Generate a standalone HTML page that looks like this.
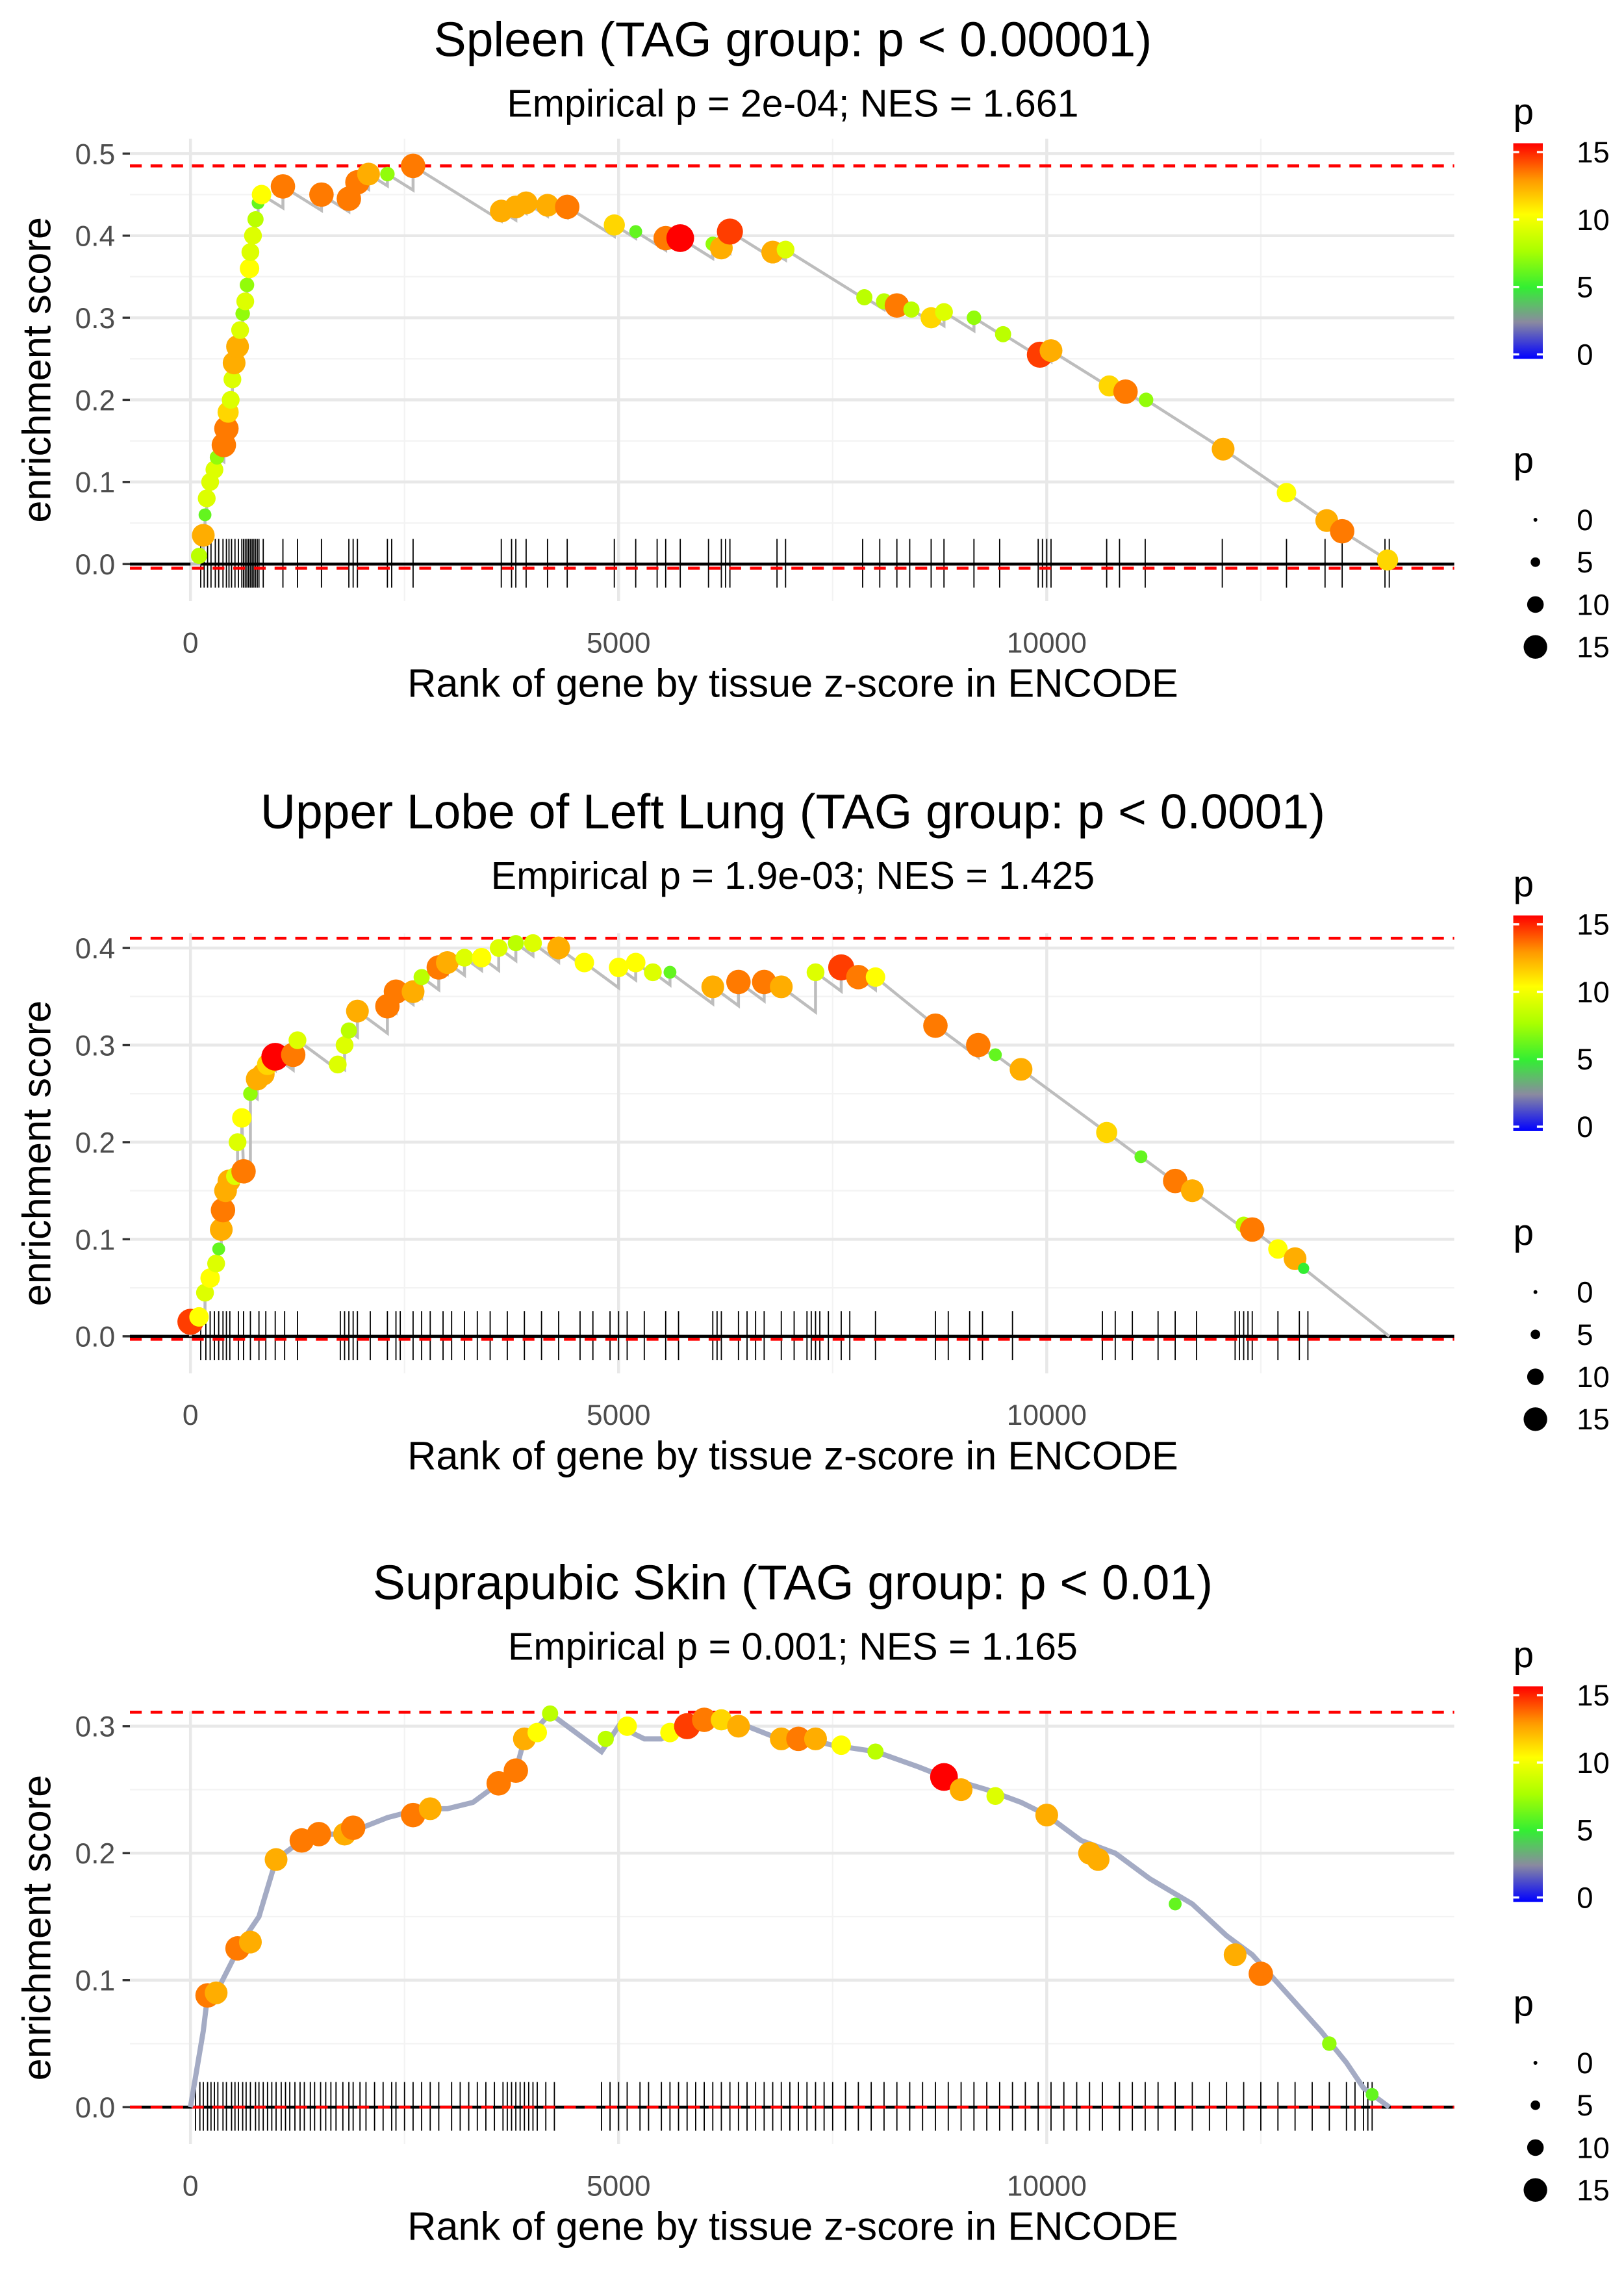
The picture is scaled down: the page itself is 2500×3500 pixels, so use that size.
<!DOCTYPE html>
<html><head><meta charset="utf-8"><style>
html,body{margin:0;padding:0;background:#fff}
svg{display:block}
text{font-family:"Liberation Sans",sans-serif}
</style></head><body>
<svg id="chart" width="2500" height="3500" viewBox="0 0 1100 1540" xmlns="http://www.w3.org/2000/svg">
<defs>
<linearGradient id="cbar" x1="0" y1="1" x2="0" y2="0">
<stop offset="0" stop-color="#0000ff"/><stop offset="0.17" stop-color="#8a8aa0"/><stop offset="0.33" stop-color="#33ee33"/><stop offset="0.5" stop-color="#aaff00"/><stop offset="0.67" stop-color="#ffff00"/><stop offset="0.83" stop-color="#ff9900"/><stop offset="1" stop-color="#ff0000"/>
</linearGradient>
</defs>
</svg>
<script>
// ---------- Panel data ----------
const p1Ranks=[100,150,170,190,230,280,310,390,420,440,470,490,510,550,580,610,640,660,690,700,730,760,790,830,1080,1530,1850,1950,2080,2300,2600,3630,3800,3920,4170,4400,4950,5200,5550,5720,6100,6200,6300,6800,6950,7870,8100,8250,8420,8650,8800,9150,9490,9920,10050,10730,10920,11160,12060,12800,13270,13450,13980];
const p1ES=[0.01,0.035,0.06,0.08,0.1,0.115,0.13,0.145,0.165,0.185,0.2,0.225,0.245,0.265,0.285,0.305,0.32,0.34,0.36,0.38,0.40,0.42,0.44,0.45,0.46,0.45,0.445,0.465,0.475,0.475,0.485,0.43,0.435,0.44,0.437,0.435,0.413,0.405,0.397,0.397,0.39,0.385,0.405,0.38,0.383,0.325,0.32,0.315,0.31,0.3,0.307,0.3,0.28,0.255,0.26,0.217,0.21,0.2,0.14,0.087,0.053,0.04,0.005];
const p1P=[8,12,6,9,9,9,7,13,13,11,9,9,12,12,9,7,9,7,10,9,9,8,6,10,13,13,13,13,12,7,13,12,12,12,12,13,11,6,13,15,7,12,14,12,9,8,8,13,8,11,9,7,8,14,12,11,13,7,12,10,12,13,11];
const p1Rug=[120,160,200,240,290,330,380,420,450,480,520,560,600,620,640,660,680,700,720,740,760,780,800,850,1080,1250,1530,1850,1900,1950,2300,2350,2600,3630,3750,3800,3920,4170,4400,4950,5200,5450,5550,5720,6050,6200,6250,6300,6850,6950,7850,8050,8250,8400,8650,8800,9150,9450,9900,9950,10000,10050,10700,10850,11150,12050,12800,13250,13450,13950,14000];

const p2Ranks=[0,100,170,230,300,330,360,380,410,450,520,550,600,620,700,780,850,900,990,1200,1250,1720,1800,1850,1950,2300,2400,2600,2700,2900,3000,3200,3400,3600,3800,4000,4300,4600,5000,5200,5400,5600,6100,6400,6700,6900,7300,7600,7800,8000,8700,9200,9400,9700,10700,11100,11500,11700,12300,12400,12700,12900,13000];
const p2ES=[0.015,0.02,0.045,0.06,0.075,0.09,0.11,0.13,0.15,0.16,0.165,0.2,0.225,0.17,0.25,0.265,0.27,0.28,0.288,0.29,0.305,0.28,0.3,0.315,0.335,0.34,0.355,0.355,0.37,0.38,0.385,0.39,0.39,0.4,0.405,0.405,0.4,0.385,0.38,0.385,0.375,0.375,0.36,0.365,0.365,0.36,0.375,0.38,0.37,0.37,0.32,0.3,0.29,0.275,0.21,0.185,0.16,0.15,0.115,0.11,0.09,0.08,0.07];
const p2P=[14,10,9,10,9,6,12,13,12,12,9,9,10,13,7,12,12,11,15,13,9,9,9,8,12,13,13,12,8,13,12,9,10,9,8,9,12,10,10,10,9,6,12,13,13,12,9,14,13,10,13,13,6,12,11,6,13,12,8,13,10,12,5];
const p2Rug=[120,180,230,280,330,380,420,460,560,620,700,800,880,990,1100,1250,1750,1800,1850,1900,1950,2100,2300,2400,2450,2600,2700,2800,2950,3050,3200,3350,3500,3700,3900,4100,4300,4550,4700,4900,5000,5100,5300,5550,5700,6100,6150,6200,6400,6500,6600,6700,6900,7050,7200,7250,7300,7350,7450,7600,7700,8000,8700,8850,9100,9250,9600,10650,10800,11000,11300,11500,11750,12200,12250,12300,12350,12400,12700,12950,13050];

const p3CurveRanks=[0,150,200,300,450,600,800,1000,1300,1500,1800,2000,2300,2700,3000,3300,3600,3800,3900,4000,4200,4500,4800,5000,5300,5500,5800,6200,6500,6800,7200,7500,8000,8500,8800,9300,9700,10000,10400,10800,11200,11700,12100,12400,12800,13200,13500,13700,14000];
const p3CurveES=[0,0.06,0.088,0.09,0.11,0.13,0.15,0.195,0.21,0.215,0.215,0.22,0.228,0.235,0.235,0.24,0.255,0.265,0.29,0.295,0.31,0.295,0.28,0.3,0.29,0.29,0.3,0.305,0.3,0.292,0.29,0.285,0.28,0.268,0.26,0.25,0.24,0.23,0.21,0.2,0.18,0.16,0.135,0.12,0.09,0.06,0.035,0.015,0];
const p3Ranks=[200,300,550,700,1000,1300,1500,1800,1900,2600,2800,3600,3800,3900,4050,4200,4850,5100,5600,5800,6000,6200,6400,6900,7100,7300,7600,8000,8800,9000,9400,10000,10500,10600,11500,12200,12500,13300,13800];
const p3ES=[0.088,0.09,0.125,0.13,0.195,0.21,0.215,0.215,0.22,0.23,0.235,0.255,0.265,0.29,0.295,0.31,0.29,0.3,0.295,0.3,0.305,0.305,0.3,0.29,0.29,0.29,0.285,0.28,0.26,0.25,0.245,0.23,0.2,0.195,0.16,0.12,0.105,0.05,0.01];
const p3P=[13,12,13,12,12,13,13,12,13,13,12,13,13,12,10,8,8,10,10,14,13,11,12,12,13,12,10,8,15,12,9,12,12,12,6,12,13,7,6];
const p3Rug=[60,110,150,200,240,280,320,380,420,480,520,560,610,650,700,760,800,850,900,950,1000,1060,1110,1160,1220,1280,1330,1400,1450,1520,1580,1640,1700,1780,1850,1900,1980,2050,2150,2250,2350,2400,2500,2600,2700,2800,2900,3050,3150,3250,3350,3450,3550,3650,3700,3750,3800,3850,3900,3950,4000,4050,4150,4250,4800,4900,5000,5100,5250,5350,5500,5600,5700,5800,5900,6000,6100,6200,6300,6400,6500,6600,6700,6800,6900,7000,7100,7200,7300,7400,7500,7650,7800,7950,8100,8250,8400,8550,8700,8850,9000,9150,9300,9450,9600,9750,9900,10050,10200,10350,10500,10650,10850,11000,11150,11300,11500,11700,11900,12100,12300,12500,12700,12900,13100,13300,13500,13600,13700,13750,13800];

const titles=["Spleen (TAG group: p < 0.00001)","Upper Lobe of Left Lung (TAG group: p < 0.0001)","Suprapubic Skin (TAG group: p < 0.01)"];
const subtitles=["Empirical p = 2e-04; NES = 1.661","Empirical p = 1.9e-03; NES = 1.425","Empirical p = 0.001; NES = 1.165"];
const yTicks=[[0,0.1,0.2,0.3,0.4,0.5],[0,0.1,0.2,0.3,0.4],[0,0.1,0.2,0.3]];
const xTicks=[0,5000,10000];
const maxES=[0.485,0.41,0.311];
const minES=[-0.005,-0.003,0];

const svg=document.getElementById('chart');
const NS='http://www.w3.org/2000/svg';
function mk(tag,attrs,parent){const e=document.createElementNS(NS,tag);for(const k in attrs)e.setAttribute(k,attrs[k]);(parent||svg).appendChild(e);return e;}
function txt(s,attrs,parent){const e=mk('text',attrs,parent);e.textContent=s;return e;}

function pColor(p){
  const stops=[[0,[0,0,255]],[2.5,[138,138,160]],[5,[51,238,51]],[7.5,[170,255,0]],[10,[255,255,0]],[12.5,[255,153,0]],[15,[255,0,0]]];
  for(let i=1;i<stops.length;i++){if(p<=stops[i][0]){const a=stops[i-1],b=stops[i];const t=(p-a[0])/(b[0]-a[0]);const c=a[1].map((v,j)=>Math.round(v+(b[1][j]-v)*t));return `rgb(${c[0]},${c[1]},${c[2]})`;}}
  return 'rgb(255,0,0)';
}
function pRad(p){return 1+p*0.56;}

const xL=88,xR=985;
function xs(r){return 129+r*290/5000;}
const panels=[{y0:382,pp:556,oy:0},{y0:905,pp:657.5,oy:523},{y0:1427,pp:860,oy:1045}];

panels.forEach((P,i)=>{
  const g=mk('g',{});
  
  
  const ys=v=>P.y0-v*P.pp;
  const oy=P.oy;
  const t=txt(titles[i],{x:537,y:38+oy,'text-anchor':'middle','font-size':33,fill:'#000'},g);
  
  const st=txt(subtitles[i],{x:537,y:79+oy,'text-anchor':'middle','font-size':26,fill:'#000'},g);
  
  const top=ys(yTicks[i][yTicks[i].length-1])-10;
  for(let k=0;k<yTicks[i].length-1;k++){const v=(yTicks[i][k]+yTicks[i][k+1])/2;mk('line',{x1:xL,x2:xR,y1:ys(v),y2:ys(v),stroke:'#f3f3f3','stroke-width':1},g);}
  [2500,7500,12500].forEach(r=>mk('line',{x1:xs(r),x2:xs(r),y1:top,y2:P.y0+25,stroke:'#f3f3f3','stroke-width':1},g));
  yTicks[i].forEach(v=>{
    mk('line',{x1:xL,x2:xR,y1:ys(v),y2:ys(v),stroke:'#e8e8e8','stroke-width':2},g);
    mk('line',{x1:xL-5,x2:xL,y1:ys(v),y2:ys(v),stroke:'#333','stroke-width':1.5},g);
    const l=txt(v.toFixed(1),{x:xL-10,y:ys(v)+7,'text-anchor':'end','font-size':19.5,fill:'#4d4d4d'},g);
    
  });
  xTicks.forEach(r=>{
    mk('line',{x1:xs(r),x2:xs(r),y1:top,y2:P.y0+25,stroke:'#e8e8e8','stroke-width':2},g);
    const l=txt(String(r),{x:xs(r),y:442+oy,'text-anchor':'middle','font-size':19.5,fill:'#4d4d4d'},g);
    
  });
  const xt=txt('Rank of gene by tissue z-score in ENCODE',{x:537,y:472+oy,'text-anchor':'middle','font-size':27,fill:'#000'},g);
  
  const yt=txt('enrichment score',{x:0,y:0,'text-anchor':'middle','font-size':27,fill:'#000',transform:`translate(34,${(top+P.y0+25)/2}) rotate(-90)`},g);
  
  mk('line',{x1:xL,x2:xR,y1:ys(0),y2:ys(0),stroke:'#000','stroke-width':2},g);
  const rug=[p1Rug,p2Rug,p3Rug][i];
  rug.forEach(r=>{const m=mk('line',{x1:xs(r),x2:xs(r),y1:ys(0)-17,y2:ys(0)+16,stroke:'#000','stroke-width':0.8},g);
    });
  [maxES[i],minES[i]].forEach(v=>{const d=mk('line',{x1:xL,x2:xR,y1:ys(v),y2:ys(v),stroke:'#ff0000','stroke-width':2,'stroke-dasharray':'8,6'},g);
    });
  let pts=[];
  if(i<2){
    const R=[p1Ranks,p2Ranks][i],E=[p1ES,p2ES][i];
    const k=6.5e-5;
    let pr=0,pe=0;pts.push([0,0]);
    R.forEach((r,j)=>{let pre=Math.max(pe-k*(r-pr),0);if(pre>E[j])pre=E[j];pts.push([r,pre]);pts.push([r,E[j]]);pr=r;pe=E[j];});
    pts.push([14000,0]);
  } else {
    pts=p3CurveRanks.map((r,j)=>[r,p3CurveES[j]]);
  }
  const path=mk('polyline',{points:pts.map(q=>xs(q[0])+','+ys(q[1])).join(' '),fill:'none',stroke:i<2?'#bdbdbd':'#a4abc4','stroke-width':i<2?2:3.5},g);
  
  const R=[p1Ranks,p2Ranks,p3Ranks][i],E=[p1ES,p2ES,p3ES][i],Pv=[p1P,p2P,p3P][i];
  R.forEach((r,j)=>{const c=mk('circle',{cx:xs(r),cy:ys(E[j]),r:pRad(Pv[j]),fill:pColor(Pv[j])},g);
    });
  const lg=mk('g',{},g);
  
  txt('p',{x:1025,y:84+oy,'font-size':25,fill:'#000'},lg);
  mk('rect',{x:1025,y:97+oy,width:20,height:146,fill:'url(#cbar)'},lg);
  [0,5,10,15].forEach(v=>{const yy=240+oy-v*137/15;
    mk('line',{x1:1025,x2:1029,y1:yy,y2:yy,stroke:'#fff','stroke-width':1.5},lg);
    mk('line',{x1:1041,x2:1045,y1:yy,y2:yy,stroke:'#fff','stroke-width':1.5},lg);
    txt(String(v),{x:1068,y:yy+7,'font-size':20,fill:'#000'},lg);});
  const sg=mk('g',{},g);
  
  txt('p',{x:1025,y:320+oy,'font-size':25,fill:'#000'},sg);
  [0,5,10,15].forEach((v,k)=>{const yy=352+oy+k*28.7;
    mk('circle',{cx:1040,cy:yy,r:v===0?1.3:pRad(v)*0.85,fill:'#000'},sg);
    txt(String(v),{x:1068,y:yy+7,'font-size':20,fill:'#000'},sg);});
});
</script>
</body></html>
